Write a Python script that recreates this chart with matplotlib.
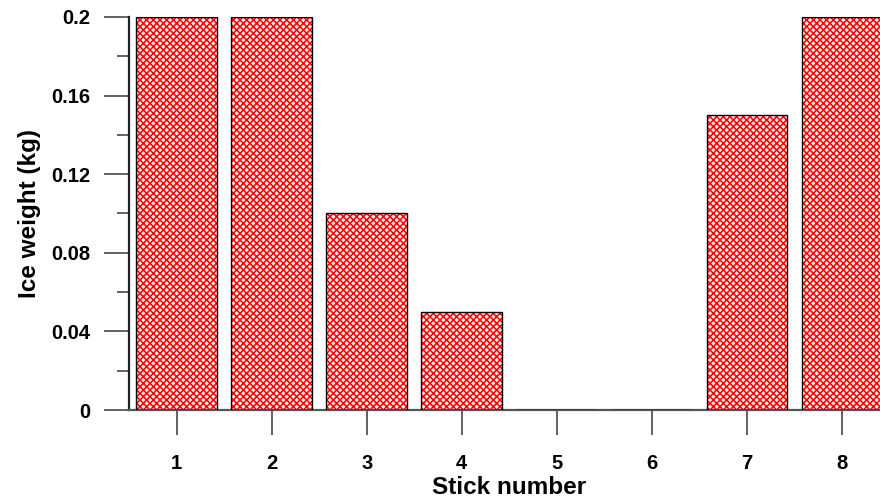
import matplotlib
matplotlib.use("Agg")
import matplotlib.pyplot as plt

# data
sticks = [1, 2, 3, 4, 5, 6, 7, 8]
ice_weight = [0.2, 0.2, 0.1, 0.05, 0.0, 0.0, 0.15, 0.2]
ytick_vals = [0, 0.04, 0.08, 0.12, 0.16, 0.2]
ytick_labels = ["0", "0.04", "0.08", "0.12", "0.16", "0.2"]
yminor_vals = [0.02, 0.06, 0.10, 0.14, 0.18]

plt.rcParams['font.family'] = ['Liberation Sans', 'DejaVu Sans']
plt.rcParams['font.weight'] = 'bold'
plt.rcParams['hatch.linewidth'] = 1.1

fig = plt.figure(figsize=(8.8, 5.04), dpi=100)
ax = fig.add_axes([0.1466, 0.1865, 0.8642, 0.7798])

# hatched fill first, then black outline on top
ax.bar(sticks, ice_weight, width=0.85, color='#ffe8e8', edgecolor='red',
       hatch='xxxxx', linewidth=0, zorder=2)
ax.bar(sticks, ice_weight, width=0.85, fill=False, edgecolor='black',
       linewidth=1.0, zorder=3)

ax.set_xlim(0.5, 8.5)
ax.set_ylim(0, 0.2)

ax.set_xticks(sticks)
ax.set_xticklabels([str(s) for s in sticks])
ax.set_yticks(ytick_vals)
ax.set_yticklabels(ytick_labels)
ax.set_yticks(yminor_vals, minor=True)

ax.tick_params(axis='both', which='major', length=18, width=1.3,
               color='#555555', labelsize=14.5, pad=10)
ax.tick_params(axis='x', which='major', pad=14)
ax.tick_params(axis='y', which='minor', length=9, width=1.3, color='#555555')

ax.spines['top'].set_visible(False)
ax.spines['right'].set_visible(False)
ax.spines['left'].set_linewidth(1.6)
ax.spines['left'].set_color('#222222')
ax.spines['bottom'].set_linewidth(1.6)
ax.spines['bottom'].set_color('#555555')

ax.set_xlabel('Stick number', fontsize=17.5, fontweight='bold', labelpad=2)
ax.set_ylabel('Ice weight (kg)', fontsize=17.5, fontweight='bold', labelpad=7)

fig.savefig('out.png', dpi=100)
